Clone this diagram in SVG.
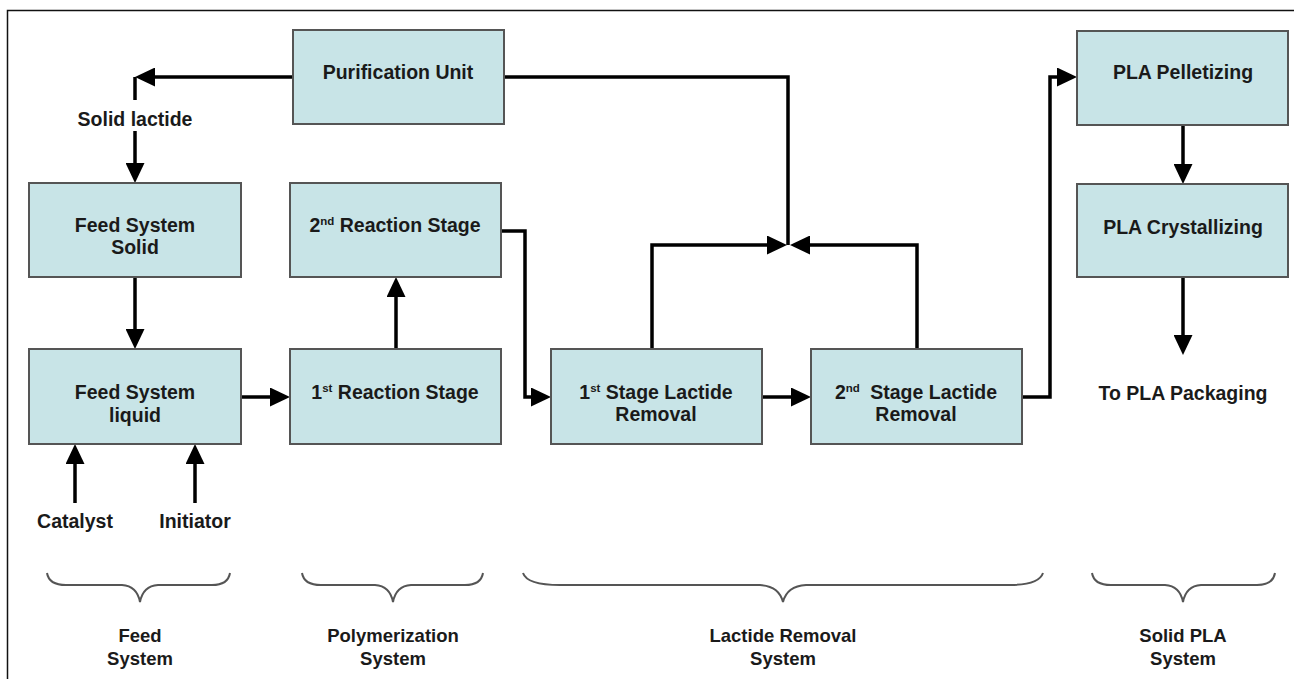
<svg xmlns="http://www.w3.org/2000/svg" width="1294" height="679" viewBox="0 0 1294 679">
<style>
.box{fill:#c8e4e7;stroke:#555;stroke-width:2}
.t{font-family:"Liberation Sans",Arial,sans-serif;font-weight:bold;font-size:19.5px;fill:#1a1a1a;text-anchor:middle}
.s{font-size:18.5px}
.sup{font-size:11.5px}
.c{fill:none;stroke:#000;stroke-width:3.5;stroke-linejoin:miter}
.a{marker-end:url(#ah)}
.br{fill:none;stroke:#555;stroke-width:2}
.frame{fill:none;stroke:#111;stroke-width:1.5}
</style>
<defs>
<marker id="ah" markerUnits="userSpaceOnUse" viewBox="0 0 20 19" markerWidth="20" markerHeight="19" refX="10" refY="9.5" orient="auto">
<path d="M0,0 L20,9.5 L0,19 z" fill="#000"/>
</marker>
</defs>
<rect width="1294" height="679" fill="#fff"/>
<path class="frame" d="M7.5,679 V10.5 H1294"/>

<g id="connectors">
<path class="c a" d="M293,77 H145"/>
<path class="c" d="M135,77 V100"/>
<path class="c a" d="M135,131 V173"/>
<path class="c a" d="M135,277 V339"/>
<path class="c a" d="M75,503 V454"/>
<path class="c a" d="M195,503 V454"/>
<path class="c a" d="M241,397 H280"/>
<path class="c a" d="M396,349 V287"/>
<path class="c a" d="M501,231 H525 V397 H541"/>
<path class="c a" d="M762,397 H801"/>
<path class="c a" d="M652,349 V245 H777"/>
<path class="c a" d="M917,349 V245 H800"/>
<path class="c" d="M504,77 H788 V245"/>
<path class="c a" d="M1022,397 H1050 V77 H1067"/>
<path class="c a" d="M1183,124 V174"/>
<path class="c a" d="M1183,277 V345"/>
</g>

<g id="purification">
<rect class="box" x="293" y="30" width="211" height="94"/>
<text class="t" x="398" y="79">Purification Unit</text>
</g>
<g id="feed-solid">
<rect class="box" x="29" y="183" width="212" height="94"/>
<text class="t" x="135" y="232">Feed System</text>
<text class="t" x="135" y="254">Solid</text>
</g>
<g id="reaction2">
<rect class="box" x="290" y="183" width="211" height="94"/>
<text class="t" x="395" y="232">2<tspan class="sup" dy="-7">nd</tspan><tspan dy="7"> Reaction Stage</tspan></text>
</g>
<g id="feed-liquid">
<rect class="box" x="29" y="349" width="212" height="95"/>
<text class="t" x="135" y="399">Feed System</text>
<text class="t" x="135" y="422">liquid</text>
</g>
<g id="reaction1">
<rect class="box" x="290" y="349" width="211" height="95"/>
<text class="t" x="395" y="399">1<tspan class="sup" dy="-7">st</tspan><tspan dy="7"> Reaction Stage</tspan></text>
</g>
<g id="lactide1">
<rect class="box" x="551" y="349" width="211" height="95"/>
<text class="t" x="656" y="399">1<tspan class="sup" dy="-7">st</tspan><tspan dy="7"> Stage Lactide</tspan></text>
<text class="t" x="656" y="421">Removal</text>
</g>
<g id="lactide2">
<rect class="box" x="811" y="349" width="211" height="95"/>
<text class="t" x="916" y="399">2<tspan class="sup" dy="-7">nd</tspan><tspan dy="7" dx="5"> Stage Lactide</tspan></text>
<text class="t" x="916" y="421">Removal</text>
</g>
<g id="pelletizing">
<rect class="box" x="1077" y="31" width="211" height="94"/>
<text class="t" x="1183" y="79">PLA Pelletizing</text>
</g>
<g id="crystallizing">
<rect class="box" x="1077" y="184" width="211" height="93"/>
<text class="t" x="1183" y="234">PLA Crystallizing</text>
</g>

<g id="labels">
<text class="t" x="135" y="126">Solid lactide</text>
<text class="t" x="75" y="528">Catalyst</text>
<text class="t" x="195" y="528">Initiator</text>
<text class="t" x="1183" y="400">To PLA Packaging</text>
</g>

<g id="braces">
<path class="br" d="M47,573 Q49,585 66,585 H122 Q137,586 140,602 Q143,586 158,585 H212 Q228,585 230,573"/>
<path class="br" d="M302,573 Q304,585 321,585 H375 Q390,586 393,602 Q396,586 411,585 H465 Q481,585 483,573"/>
<path class="br" d="M523,573 Q527,585 560,585 H760 Q779,586 783,602 Q787,586 806,585 H1010 Q1039,585 1043,573"/>
<path class="br" d="M1092,573 Q1094,585 1111,585 H1165 Q1180,586 1183,602 Q1186,586 1201,585 H1257 Q1273,585 1275,573"/>
</g>
<g id="system-labels">
<text class="t s" x="140" y="642">Feed</text>
<text class="t s" x="140" y="665">System</text>
<text class="t s" x="393" y="642">Polymerization</text>
<text class="t s" x="393" y="665">System</text>
<text class="t s" x="783" y="642">Lactide Removal</text>
<text class="t s" x="783" y="665">System</text>
<text class="t s" x="1183" y="642">Solid PLA</text>
<text class="t s" x="1183" y="665">System</text>
</g>
</svg>
